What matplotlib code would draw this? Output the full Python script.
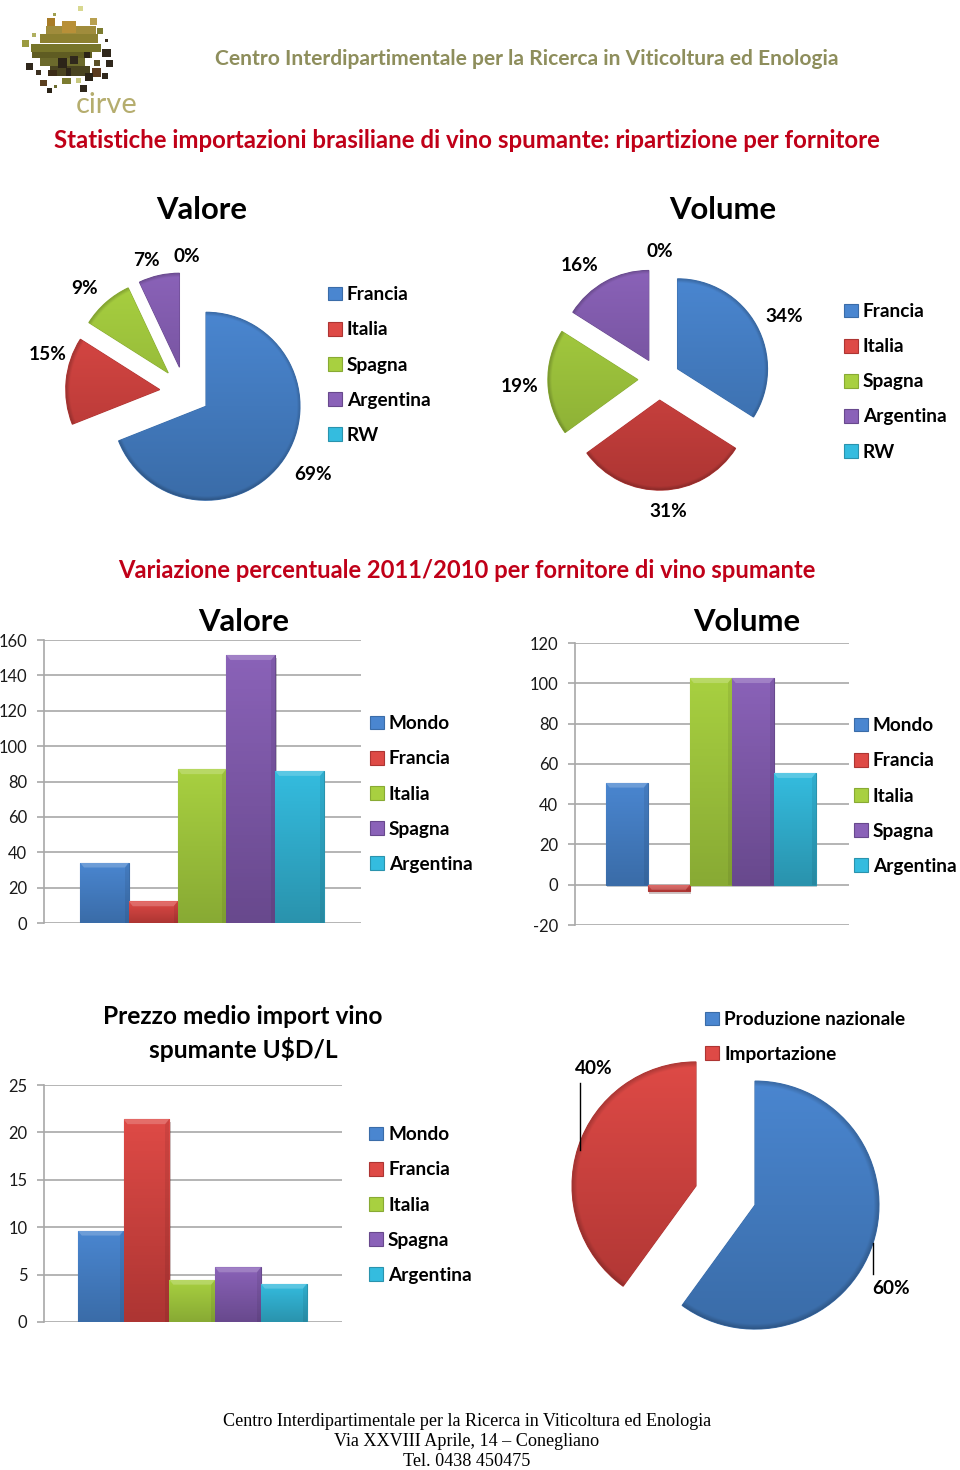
import numpy as np
import matplotlib
matplotlib.use("Agg")
import matplotlib.pyplot as plt
from matplotlib.patches import Patch, Rectangle
from matplotlib.colors import to_rgb
import matplotlib.patheffects as pe

plt.rcParams['font.family'] = ['Lato', 'DejaVu Sans']
plt.rcParams['axes.unicode_minus'] = False

W = 960
H = 1470

# pie data
pie_names = ["Francia", "Italia", "Spagna", "Argentina", "RW"]
valore_share = [69, 15, 9, 7, 0]
volume_share = [34, 31, 19, 16, 0]
mercato_names = ["Produzione nazionale", "Importazione"]
mercato_share = [60, 40]

# bar data
bar_names = ["Mondo", "Francia", "Italia", "Spagna", "Argentina"]
var_valore = [34.2, 12.3, 87, 151.5, 86]
var_volume = [50.7, -3.3, 102.6, 102.6, 55.5]
prezzo = [9.65, 21.4, 4.47, 5.77, 4.05]

ticks_valore = [0, 20, 40, 60, 80, 100, 120, 140, 160]
ticks_volume = [-20, 0, 20, 40, 60, 80, 100, 120]
ticks_prezzo = [0, 5, 10, 15, 20, 25]

# colours, top then bottom of the gradient
top_cols = ["#4a86d0", "#de4a46", "#a8d040", "#8a62b8", "#34bcdf"]
bot_cols = ["#3a6ca8", "#ad3533", "#88aa34", "#68498d", "#2a93ad"]

# logo pieces: x, y, w, h, colour (image pixels)
logo = [
    (46, 26, 50, 9, "#a08c3c"), (40, 34, 58, 9, "#8c8030"), (31, 44, 70, 8, "#77752a"),
    (32, 52, 60, 6, "#5f5c22"), (40, 58, 45, 8, "#6c6a2c"), (50, 66, 40, 10, "#4a4420"),
    (22, 40, 7, 7, "#9a9a40"), (47, 18, 8, 8, "#a87c28"), (62, 21, 14, 12, "#b89038"), (90, 18, 7, 7, "#b8a050"),
    (78, 6, 5, 5, "#d8d890"), (53, 13, 3, 3, "#a0a050"), (32, 33, 4, 4, "#b0b060"), (97, 28, 6, 6, "#7c7c30"),
    (105, 39, 3, 3, "#3c3020"), (102, 49, 9, 8, "#30281c"), (106, 60, 7, 7, "#30281c"), (26, 63, 7, 7, "#30281c"),
    (36, 70, 5, 5, "#3c3020"), (94, 60, 6, 6, "#5c5028"), (102, 73, 6, 6, "#30281c"), (92, 68, 9, 9, "#5c3c20"),
    (85, 73, 8, 8, "#2c2418"), (80, 85, 7, 7, "#30281c"), (47, 88, 5, 5, "#2c2418"), (54, 85, 3, 3, "#6c6c30"),
    (76, 78, 5, 5, "#c8c880"), (58, 58, 9, 10, "#2c2418"), (70, 56, 8, 8, "#30281c"), (48, 70, 9, 6, "#3c2c18"),
    (40, 80, 7, 6, "#5c4020"), (62, 78, 9, 6, "#7c7c30"), (84, 52, 6, 6, "#2c2418"), (66, 68, 5, 8, "#2c2418"),
]

fig = plt.figure(figsize=(W / 100, H / 100), dpi=100)
ov = fig.add_axes([0, 0, 1, 1], zorder=5)
ov.patch.set_alpha(0)


def Y(py):
    return H - py


def reset_overlay():
    ov.set_aspect('auto')
    ov.set_xlim(0, W)
    ov.set_ylim(0, H)
    ov.axis('off')


def put(x, y, s, size, **kw):
    kw.setdefault('ha', 'center')
    kw.setdefault('va', 'center')
    kw.setdefault('color', 'black')
    kw.setdefault('fontweight', 'bold')
    ov.text(x, Y(y), s, fontsize=size * 0.72, **kw)


def add_legend(names, handle_x, first_y, step, cols):
    hs = [Patch(facecolor=c, edgecolor=d, linewidth=0.8) for c, d in zip(cols, bot_cols)]
    size = 19
    leg = fig.legend(hs, names, loc='upper left',
                     bbox_to_anchor=(handle_x / W, 1 - (first_y - size * 0.36) / H),
                     frameon=False, borderpad=0, borderaxespad=0,
                     handlelength=14 / size, handleheight=14 / size, handletextpad=5 / size,
                     labelspacing=(step - size * 0.9) / size,
                     prop={'family': ['Lato', 'DejaVu Sans'], 'size': size * 0.72, 'weight': 'bold'})
    leg.set_zorder(6)


def draw_pie(vals, cx, cy, r, expl, label_pos):
    wedges, _ = ov.pie(vals, explode=[expl * r] * len(vals), radius=r, center=(cx, Y(cy)),
                       startangle=90, counterclock=False, colors=top_cols[:len(vals)])
    for i, w in enumerate(wedges):
        if vals[i] == 0:
            continue
        w.set_edgecolor(bot_cols[i])
        w.set_linewidth(0.8)
        wx, wy = w.center
        gx = np.linspace(wx - r, wx + r, 300)
        gy = np.linspace(wy - r, wy + r, 300)
        xx, yy = np.meshgrid(gx, gy)
        rr = np.hypot(xx - wx, yy - wy) / r
        t = np.clip((yy - wy) / (2 * r) + 0.5, 0, 1)[..., None]
        img = np.array(to_rgb(bot_cols[i])) * (1 - t) + np.array(to_rgb(top_cols[i])) * t
        rim = np.clip((rr - 0.96) / 0.04, 0, 1)[..., None]
        img = img * (1 - 0.2 * rim)
        im = ov.imshow(img, extent=(wx - r, wx + r, wy - r, wy + r), origin='lower',
                       aspect='auto', interpolation='bilinear', zorder=w.get_zorder() + 0.1)
        im.set_clip_path(w)
    for v, (lx, ly) in zip(vals, label_pos):
        put(lx, ly, f"{v}%", 19, zorder=8)
    reset_overlay()


def draw_bars(vals, ticks, box, bar_x0, bar_w):
    x0, y0, x1, y1 = box
    ax = fig.add_axes([x0 / W, 1 - y1 / H, (x1 - x0) / W, (y1 - y0) / H], zorder=2)
    left = (bar_x0 - x0) / bar_w
    right = (x1 - x0) / bar_w - left
    pos = np.arange(len(vals))
    ax.set_xlim(-0.5 - left, -0.5 + right)
    ax.set_ylim(ticks[0], ticks[-1])
    ax.set_yticks(ticks)
    ax.set_xticks([])
    ax.yaxis.grid(True, color="#a8a8a8", linewidth=1.2)
    ax.set_axisbelow(True)
    for s in ['top', 'right', 'bottom']:
        ax.spines[s].set_visible(False)
    ax.spines['left'].set_color("#a8a8a8")
    ax.spines['left'].set_linewidth(1.2)
    ax.tick_params(axis='y', length=5, width=1.2, color="#a8a8a8", labelsize=16.5 * 0.72, pad=7,
                   labelcolor="#1a1a1a")
    ax.patch.set_alpha(0)
    bars = ax.bar(pos, vals, width=1.0, color=top_cols, edgecolor=bot_cols, linewidth=0.8, zorder=3)
    unit = (ticks[-1] - ticks[0]) / (y1 - y0)
    for i, b in enumerate(bars):
        b.set_path_effects([pe.SimplePatchShadow(offset=(1, -2), alpha=0.25), pe.Normal()])
        lo = min(b.get_y(), b.get_y() + b.get_height())
        top = max(b.get_y(), b.get_y() + b.get_height())
        grad = np.linspace(0, 1, 64)[..., None, None]
        img = np.array(to_rgb(bot_cols[i])) * (1 - grad) + np.array(to_rgb(top_cols[i])) * grad
        im = ax.imshow(img, extent=(i - 0.5, i + 0.5, lo, top), origin='lower',
                       aspect='auto', zorder=3.1)
        im.set_clip_path(b)
        # bevel along the top and the sides
        bev = 5 * unit
        inset = 4 / bar_w
        ax.fill([i - 0.5, i + 0.5, i + 0.5 - inset, i - 0.5 + inset],
                [top, top, top - bev, top - bev], color="white", alpha=0.2, lw=0, zorder=3.2)
        ax.fill([i + 0.5, i + 0.5, i + 0.5 - inset, i + 0.5 - inset],
                [top, lo, lo, top - bev], color="black", alpha=0.07, lw=0, zorder=3.2)
    ax.set_xlim(-0.5 - left, -0.5 + right)
    ax.set_ylim(ticks[0], ticks[-1])
    return ax


# logo
for lx, ly, lw, lh, lc in logo:
    ov.add_patch(Rectangle((lx, Y(ly + lh)), lw, lh, facecolor=lc, edgecolor='none'))
put(107, 105, "cirve", 29, color="#b5ad6e", fontweight='normal')

# headers
put(527, 59, "Centro Interdipartimentale per la Ricerca in Viticoltura ed Enologia", 21,
    color="#8e8e5c")
put(467, 140, "Statistiche importazioni brasiliane di vino spumante: ripartizione per fornitore", 24,
    color="#c00018")
put(467, 570, "Variazione percentuale 2011/2010 per fornitore di vino spumante", 23.7,
    color="#c00018")

# pies
put(202, 210, "Valore", 31)
put(723, 210, "Volume", 31)
draw_pie(valore_share, 185, 392, 94, 0.27,
         [(313, 474), (48, 354), (85, 288), (146, 260), (187, 256)])
draw_pie(volume_share, 659, 379, 90, 0.235,
         [(784, 316), (668, 511), (520, 386), (580, 265), (660, 251)])
draw_pie(mercato_share, 725.5, 1195.5, 124, 0.25, [(891, 1288), (594, 1069)])
ov.plot([580, 580], [Y(1083), Y(1150)], color="black", lw=1, zorder=7)
ov.plot([873, 873], [Y(1243), Y(1274)], color="black", lw=1, zorder=7)
reset_overlay()

add_legend(pie_names, 328, 293, 35.3, top_cols)
add_legend(pie_names, 844, 310, 35.2, top_cols)
add_legend(mercato_names, 705, 1018, 34.5, top_cols[:2])

# bars
draw_bars(var_valore, ticks_valore, (44, 640, 361, 923), 80, 48.8)
draw_bars(var_volume, ticks_volume, (575, 643, 849, 925), 605.7, 42)
draw_bars(prezzo, ticks_prezzo, (44, 1085, 342, 1322), 77.7, 45.8)

put(244, 622, "Valore", 31)
put(747, 622, "Volume", 31)
put(243, 1017, "Prezzo medio import vino", 24.5)
put(243, 1049, "spumante U$D/L", 24.5)

add_legend(bar_names, 370, 722, 35.3, top_cols)
add_legend(bar_names, 854, 724, 35.3, top_cols)
add_legend(bar_names, 369, 1133, 35.3, top_cols)

# footer
serif = ['Liberation Serif', 'DejaVu Serif']
put(467, 1421, "Centro Interdipartimentale per la Ricerca in Viticoltura ed Enologia", 18.2,
    family=serif, fontweight='normal')
put(467, 1441, "Via XXVIII Aprile, 14 \u2013 Conegliano", 18.2, family=serif, fontweight='normal')
put(467, 1461, "Tel. 0438 450475", 18.2, family=serif, fontweight='normal')

fig.savefig("out.png", dpi=100)
